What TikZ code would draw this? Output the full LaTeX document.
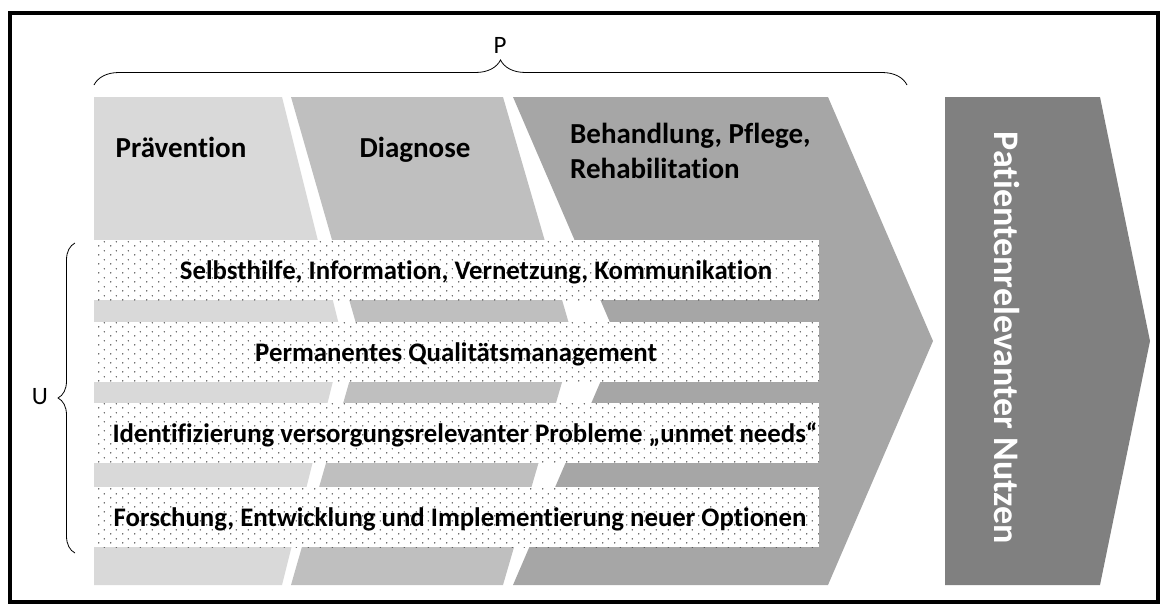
\documentclass[tikz,border=0pt]{standalone}
\usepackage{fontspec}
\setmainfont{Carlito}[Ligatures={TeX,NoCommon}]
\usetikzlibrary{decorations.pathreplacing,patterns}

\definecolor{phaseA}{HTML}{D9D9D9}
\definecolor{phaseB}{HTML}{BFBFBF}
\definecolor{phaseC}{HTML}{A6A6A6}
\definecolor{nutzenfill}{HTML}{808080}

% dotted fill of the four bands
\pgfdeclarepatternformonly{bandDots}{\pgfpointorigin}{\pgfpoint{12pt}{9pt}}{\pgfpoint{12pt}{9pt}}{%
  \pgfpathcircle{\pgfpoint{3pt}{2.25pt}}{0.8pt}%
  \pgfpathcircle{\pgfpoint{9pt}{6.75pt}}{0.8pt}%
  \pgfusepath{fill}}

\tikzset{
  phasetitle/.style={font=\fontsize{29}{35}\selectfont\bfseries, inner sep=0pt},
  bandbox/.style={fill=white, postaction={pattern=bandDots, pattern color=black!75},
    minimum width=725pt, minimum height=60pt, inner sep=0pt},
  bandtext/.style={font=\fontsize{26.8}{30}\selectfont\bfseries, inner sep=0pt},
  sidelabel/.style={font=\fontsize{25}{28}\selectfont, inner sep=0pt},
  curly/.style={decorate, decoration={brace, amplitude=#1}, line width=0.8pt},
}

\begin{document}
\begin{tikzpicture}[x=1pt, y=-1pt]
\useasboundingbox (0,0) rectangle (1165,608);

% phases
\fill[phaseA] (94,97) -- (282,97) -- (343,341) -- (282,585) -- (94,585) -- cycle;
\fill[phaseB] (291,97) -- (503,97) -- (574,341) -- (503,585) -- (291,585) -- (361,341) -- cycle;
\fill[phaseC] (513,97) -- (828,97) -- (933,341) -- (828,585) -- (513,585) -- (618,341) -- cycle;
\fill[nutzenfill] (945,97) -- (1100,97) -- (1150,341) -- (1100,585) -- (945,585) -- cycle;

\node[phasetitle, anchor=base] (prae) at (181,157) {Prävention};
\node[phasetitle, anchor=base] (diag) at (415,157) {Diagnose};
\node[phasetitle, anchor=west, align=left] (beh) at (570,151) {Behandlung, Pflege,\\Rehabilitation};
\node[font=\fontsize{36}{40}\selectfont\bfseries, text=white, rotate=-90, inner sep=0pt]
  (nutzen) at (1007,338) {Patientenrelevanter Nutzen};

% bands
\node[bandbox] (band1) at (456.5,270) {};
\node[bandbox] (band2) at (456.5,352) {};
\node[bandbox] (band3) at (456.5,433) {};
\node[bandbox] (band4) at (456.5,517) {};

\node[bandtext, anchor=base] (txt1) at (476,279) {Selbsthilfe, Information, Vernetzung, Kommunikation};
\node[bandtext, anchor=base] (txt2) at (456,361) {Permanentes Qualitätsmanagement};
\node[bandtext, anchor=base] (txt3) at (465,442) {Identifizierung versorgungsrelevanter Probleme „unmet needs“};
\node[bandtext, anchor=base] (txt4) at (460,526) {Forschung, Entwicklung und Implementierung neuer Optionen};

% braces
\coordinate (pl) at (94,85);
\coordinate (pr) at (907,85);
\coordinate (ub) at (75,553);
\coordinate (ut) at (75,243);
\draw[curly=25pt] (pl) -- (pr);
\draw[curly=17pt] (ub) -- (ut);
\node[sidelabel] (plab) at (500,45) {P};
\node[sidelabel] (ulab) at (40,397) {U};

% frame
\draw[line width=4pt] (9.5,13) rectangle (1158,602);
\end{tikzpicture}
\end{document}
